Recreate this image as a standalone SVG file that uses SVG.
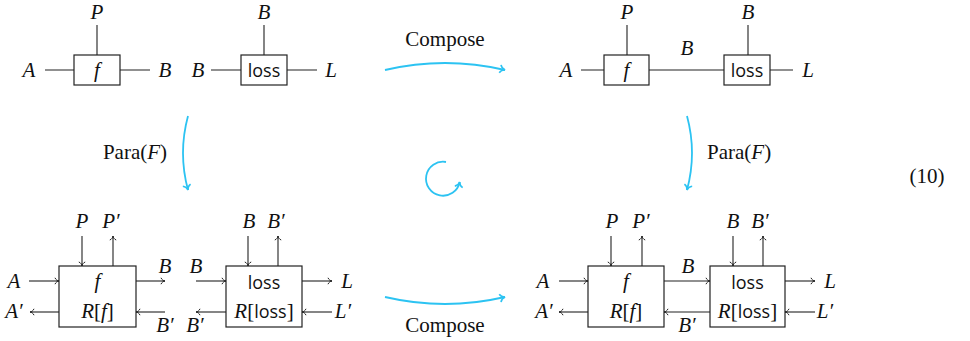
<svg xmlns="http://www.w3.org/2000/svg" width="970" height="341" viewBox="0 0 970 341">
<style>
.box{fill:#fff;stroke:#222;stroke-width:1.2}
.w{stroke:#222;stroke-width:1.1;fill:none}
.a{stroke:#222;stroke-width:1.1;fill:none;marker-end:url(#ah)}
.c{stroke:#2cc3f2;stroke-width:1.8;fill:none;marker-end:url(#ch)}
.m{font-family:"Liberation Serif",serif;font-style:italic;font-size:21px;fill:#111;text-anchor:middle}
.t{font-family:"Liberation Serif",serif;font-size:21px;fill:#111}
.s{font-family:"Open Sans",sans-serif;font-size:18px;fill:#111;text-anchor:middle}
.up{font-style:normal}
.sf{font-family:"Open Sans",sans-serif;font-style:normal}
</style>
<defs>
<marker id="ah" viewBox="-6 -5 7 10" refX="0" refY="0" markerWidth="7" markerHeight="10" markerUnits="userSpaceOnUse" orient="auto">
<path d="M-4,-3.2 C-3.2,-1.2 -1.6,-0.3 0,0 C-1.6,0.3 -3.2,1.2 -4,3.2" stroke="#222" stroke-width="1" fill="none"/>
</marker>
<marker id="ch" viewBox="-7 -5 8 10" refX="0" refY="0" markerWidth="8" markerHeight="10" markerUnits="userSpaceOnUse" orient="auto">
<path d="M-5,-4 C-4,-1.5 -2,-0.4 0,0 C-2,0.4 -4,1.5 -5,4" stroke="#2cc3f2" stroke-width="1.6" fill="none"/>
</marker>
</defs>

<g id="connectors">
<path class="w" d="M45,70H74 M120,70H150 M97,25V55 M211,70H241 M287,70H317 M264,25V55"/>
<path class="w" d="M581,70H604 M649,70H724 M770,70H793 M627,25V55 M748,25V55"/>
<path class="a" d="M29,281H59"/>
<path class="a" d="M59,312H30"/>
<path class="a" d="M82,236V266"/>
<path class="a" d="M113,266V236"/>
<path class="a" d="M136,281H165"/>
<path class="a" d="M165,312H136"/>
<path class="a" d="M196,281H226"/>
<path class="a" d="M226,312H196"/>
<path class="a" d="M248,236V266"/>
<path class="a" d="M278,266V236"/>
<path class="a" d="M302,281H332"/>
<path class="a" d="M332,312H302"/>
<path class="a" d="M559,281H588"/>
<path class="a" d="M588,312H559"/>
<path class="a" d="M611,236V266"/>
<path class="a" d="M642,266V236"/>
<path class="a" d="M664,281H710"/>
<path class="a" d="M710,312H664"/>
<path class="a" d="M733,236V266"/>
<path class="a" d="M763,266V236"/>
<path class="a" d="M785,281H815"/>
<path class="a" d="M815,312H785"/>
<path class="c" d="M385,70 Q445,56 505,70"/>
<path class="c" d="M385,297 Q445,311 505,297"/>
<path class="c" d="M188,116 Q178,153 188,190"/>
<path class="c" d="M687,116 Q697,153 687,190"/>
<path class="c" d="M446,162 A17,17 0 1 0 459.7,182"/>
</g>

<g id="node-f-top-left">
<rect class="box" x="74" y="55" width="46" height="30"/>
<text class="m" x="97" y="77">f</text>
</g>
<g id="node-loss-top-left">
<rect class="box" x="241" y="55" width="46" height="30"/>
<text class="s" x="264" y="77">loss</text>
</g>
<g id="node-f-top-right">
<rect class="box" x="604" y="55" width="45" height="30"/>
<text class="m" x="626.5" y="77">f</text>
</g>
<g id="node-loss-top-right">
<rect class="box" x="724" y="55" width="46" height="30"/>
<text class="s" x="747" y="77">loss</text>
</g>
<g id="node-f-bottom-left">
<rect class="box" x="59" y="266" width="77" height="61"/>
<text class="m" x="97.5" y="288">f</text>
<text class="m" x="97.5" y="318">R<tspan class="up">[</tspan>f<tspan class="up">]</tspan></text>
</g>
<g id="node-loss-bottom-left">
<rect class="box" x="226" y="266" width="76" height="61"/>
<text class="s" x="264" y="289">loss</text>
<text class="m" x="264" y="318">R<tspan class="up">[</tspan><tspan class="sf" font-size="18">loss</tspan><tspan class="up">]</tspan></text>
</g>
<g id="node-f-bottom-right">
<rect class="box" x="588" y="266" width="76" height="61"/>
<text class="m" x="626" y="288">f</text>
<text class="m" x="626" y="318">R<tspan class="up">[</tspan>f<tspan class="up">]</tspan></text>
</g>
<g id="node-loss-bottom-right">
<rect class="box" x="710" y="266" width="75" height="61"/>
<text class="s" x="747.5" y="289">loss</text>
<text class="m" x="747.5" y="318">R<tspan class="up">[</tspan><tspan class="sf" font-size="18">loss</tspan><tspan class="up">]</tspan></text>
</g>

<g id="labels">
<text class="m" x="29" y="77">A</text>
<text class="m" x="165" y="77">B</text>
<text class="m" x="97" y="19">P</text>
<text class="m" x="198" y="77">B</text>
<text class="m" x="331" y="77">L</text>
<text class="m" x="264" y="19">B</text>
<text class="m" x="566" y="77">A</text>
<text class="m" x="627" y="19">P</text>
<text class="m" x="687" y="55">B</text>
<text class="m" x="748" y="19">B</text>
<text class="m" x="808" y="77">L</text>
<text class="m" x="14" y="288">A</text>
<text class="m" x="14" y="318">A′</text>
<text class="m" x="82" y="228">P</text>
<text class="m" x="111" y="228">P′</text>
<text class="m" x="165" y="273">B</text>
<text class="m" x="165" y="332">B′</text>
<text class="m" x="196" y="273">B</text>
<text class="m" x="195" y="332">B′</text>
<text class="m" x="249" y="228">B</text>
<text class="m" x="276" y="228">B′</text>
<text class="m" x="347" y="288">L</text>
<text class="m" x="343" y="318">L′</text>
<text class="m" x="543" y="288">A</text>
<text class="m" x="544" y="318">A′</text>
<text class="m" x="612" y="228">P</text>
<text class="m" x="641" y="228">P′</text>
<text class="m" x="688" y="273">B</text>
<text class="m" x="687" y="332">B′</text>
<text class="m" x="733" y="228">B</text>
<text class="m" x="760" y="228">B′</text>
<text class="m" x="830" y="288">L</text>
<text class="m" x="825" y="318">L′</text>
<text class="t" x="445" y="46" text-anchor="middle">Compose</text>
<text class="t" x="445" y="332" text-anchor="middle">Compose</text>
<text class="t" x="135" y="159" text-anchor="middle" font-size="22">Para(<tspan font-style="italic">F</tspan>)</text>
<text class="t" x="707" y="159" font-size="22">Para(<tspan font-style="italic">F</tspan>)</text>
<text class="t" x="927" y="183" text-anchor="middle" font-size="23">(10)</text>
</g>
</svg>
